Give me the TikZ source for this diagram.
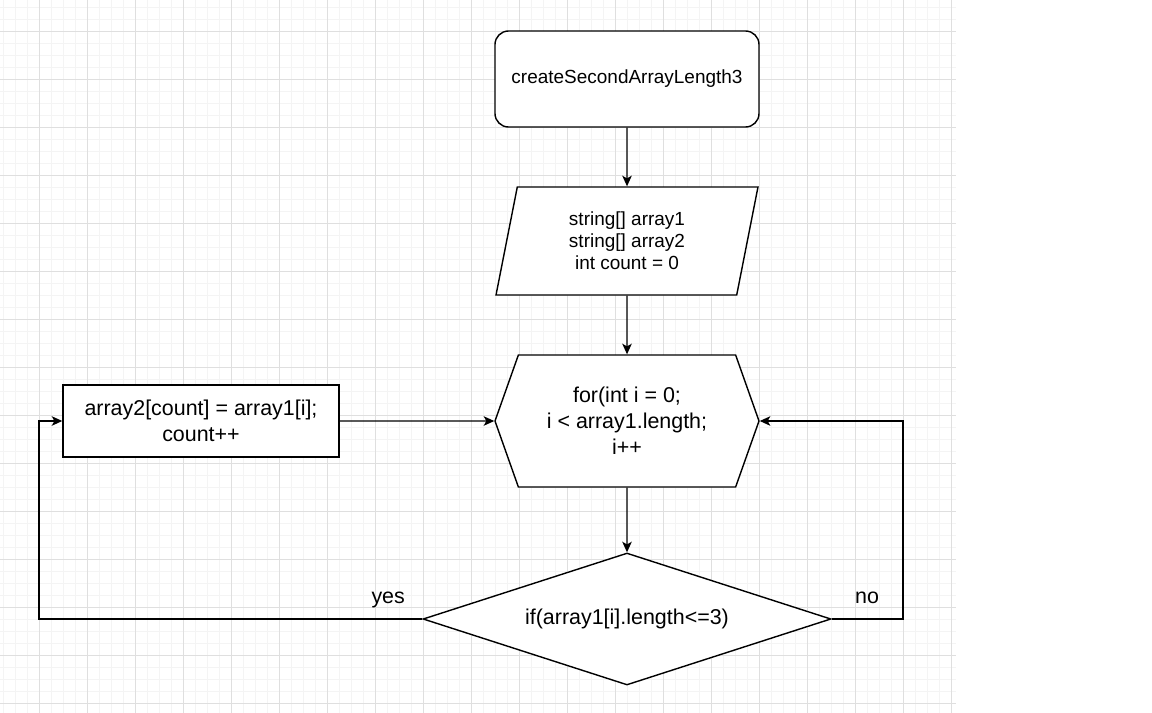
\documentclass[tikz,border=0pt]{standalone}
\usepackage{fontspec}
\setmainfont{Liberation Sans}
\usetikzlibrary{shapes.geometric,shapes.symbols,arrows.meta}

\def\h{0.24}
\definecolor{gitterfein}{gray}{0.955}
\definecolor{gitter}{gray}{0.875}
\def\gross{\fontsize{12.2}{14.7}\selectfont}
\def\klein{\fontsize{10.8}{12.5}\selectfont}
\def\raster{
	\foreach \x in {-3,...,76}{
		\draw[color=gitterfein] ({\x*\h},{2.6*\h}) -- ({\x*\h},{-56.9*\h});
	}
	\foreach \y in {-56,...,2}{
		\draw[color=gitterfein] ({-3.3*\h},{\y*\h}) -- ({76.4*\h},{\y*\h});
	}
	\foreach \x in {0,4,...,76}{
		\draw[color=gitter] ({\x*\h},{2.6*\h}) -- ({\x*\h},{-56.9*\h});
	}
	\foreach \y in {0,-4,...,-56}{
		\draw[color=gitter] ({-3.3*\h},{\y*\h}) -- ({76.4*\h},{\y*\h});
	}
}

\begin{document}
\begin{tikzpicture}[>={Stealth[length=6pt,width=5.4pt,inset=1.5pt]},line width=0.8pt,
	kasten/.style={draw,fill=white,inner sep=0pt,align=center},
	raute/.style={kasten,diamond,shape aspect=3.09,minimum width={34*\h cm},minimum height={11*\h cm}}]
\path[use as bounding box] ({-3.25*\h},{2.5833*\h}) rectangle ({92.75*\h},{-56.8333*\h});
\begin{scope}[line width=0.5pt]
\raster
\end{scope}

\node[kasten,rounded corners=0.27cm,minimum width={22*\h cm},minimum height={8*\h cm},font=\klein]
	(start) at ({49*\h},{-4*\h}) {createSecondArrayLength3};
\node[kasten,trapezium,trapezium left angle=79,trapezium right angle=101,trapezium stretches=true,
	minimum width={22*\h cm},minimum height={9*\h cm},font=\klein]
	(eingabe) at ({49*\h},{-17.5*\h}) {string[] array1\\string[] array2\\int count = 0};
\node[kasten,signal,signal to=west and east,signal pointer angle=141,
	minimum width={22*\h cm},minimum height={11*\h cm},font=\gross]
	(schleife) at ({49*\h},{-32.5*\h}) {for(int i = 0;\\i < array1.length;\\i++};
\node[kasten,minimum width={23*\h cm},minimum height={6*\h cm},font=\gross]
	(rumpf) at ({13.5*\h},{-32.5*\h}) {array2[count] = array1[i];\\count++};
\node[raute,font=\gross] (abfrage) at ({49*\h},{-49*\h}) {if(array1[i].length<=3)};

\node[font=\gross] (ja) at ({29.1*\h},{-47.45*\h}) {yes};
\node[font=\gross] (nein) at ({69*\h},{-47.25*\h}) {no};
\coordinate (links) at (0,{-49*\h});
\coordinate (rechts) at ({72*\h},{-49*\h});

\draw[->] (start) -- (eingabe);
\draw[->] (eingabe) -- (schleife);
\draw[->] (schleife) -- (abfrage);
\draw[->] (rumpf) -- (schleife);
\draw[->] (abfrage.west) -- (links) |- (rumpf.west);
\draw[->] (abfrage.east) -- (rechts) |- (schleife.east);
\end{tikzpicture}
\end{document}
